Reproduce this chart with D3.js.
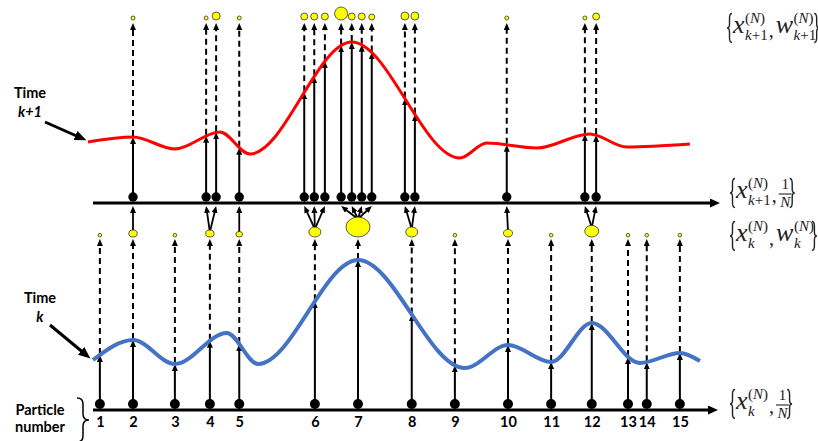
<!DOCTYPE html>
<html>
<head>
<meta charset="utf-8">
<script src="https://cdn.jsdelivr.net/npm/d3@7"></script>
<style>
  body { margin: 0; background: #fff; }
  text { font-family: Lato, "Open Sans", sans-serif; }
  .math text { font-family: "Liberation Serif", "DejaVu Serif", serif; }
</style>
</head>
<body>
<div id="chart"></div>
<script>
// particle filter picture: time k particles, weights, resampling, time k+1

// particle states at time k (0..100 state units) and their weights
var particleLabels = ["1","2","3","4","5","6","7","8","9","10","11","12","13","14","15"];
var stateK = [1.1, 6.4, 13.1, 18.7, 23.4, 35.5, 42.4, 51.0, 57.9, 66.4, 73.3, 79.8, 85.6, 88.6, 93.9];
var weightK = [0.013, 0.049, 0.013, 0.049, 0.031, 0.1, 0.4, 0.1, 0.013, 0.058, 0.013, 0.135, 0.013, 0.013, 0.013];

// resampled particles at time k+1: which parent (particle number) they came from
var parentK1 = [2, 4, 4, 5, 6, 6, 6, 7, 7, 7, 7, 8, 8, 10, 12, 12];
var stateK1 = [6.4, 18.1, 19.7, 23.4, 33.8, 35.4, 37.1, 39.7, 41.4, 43.0, 44.6, 49.9, 51.5, 66.2, 78.7, 80.5];
var weightK1 = [0.016, 0.016, 0.064, 0.016, 0.049, 0.049, 0.049, 0.169, 0.049, 0.049, 0.036, 0.064, 0.064, 0.016, 0.016, 0.049];

// likelihood curves [state, value]
var curveK = [[0, 50], [6.4, 70], [13.1, 46], [21.4, 77], [26.4, 46], [42.4, 150], [59.5, 42],
              [66.4, 65], [73.3, 48], [79.8, 87], [87.5, 47], [93.9, 57], [97.1, 49]];
var curveK1 = [[-0.8, 61], [6.4, 66], [13.1, 54], [20.3, 71], [25.1, 49], [41.4, 161], [58.7, 45],
               [63.0, 60], [71.0, 55], [79.5, 69], [85.4, 56], [95.5, 59]];

var svgWidth = 818, svgHeight = 441;
var axisK = 410, axisK1 = 203;

var svg = d3.select("#chart").append("svg")
    .attr("width", svgWidth)
    .attr("height", svgHeight)
    .style("background", "#fff");

var x = d3.scaleLinear().domain([0, 100]).range([93, 718]);
var yK = d3.scaleLinear().domain([0, 160]).range([axisK, axisK - 160]);
var yK1 = d3.scaleLinear().domain([0, 160]).range([axisK1, axisK1 - 160]);
var rScale = d3.scaleSqrt().domain([0, 0.4]).range([0, 10]);

// markers
var defs = svg.append("defs");
function marker(id, len, wid, ref) {
    defs.append("marker")
        .attr("id", id)
        .attr("markerUnits", "userSpaceOnUse")
        .attr("markerWidth", len + 2).attr("markerHeight", wid + 2)
        .attr("refX", ref).attr("refY", wid / 2)
        .attr("orient", "auto")
        .append("path")
        .attr("d", `M0,0L${len},${wid / 2}L0,${wid}Z`)
        .attr("fill", "#000");
}
marker("ah", 7, 6, 3);
marker("axisHead", 10, 9, 4);
marker("bigHead", 12, 10, 5);

// axes (arrow lines) with particle numbers as tick labels
svg.append("line").attr("x1", 93).attr("x2", 712).attr("y1", axisK).attr("y2", axisK)
    .attr("stroke", "#000").attr("stroke-width", 3).attr("marker-end", "url(#axisHead)");
svg.append("line").attr("x1", 93).attr("x2", 714).attr("y1", axisK1).attr("y2", axisK1)
    .attr("stroke", "#000").attr("stroke-width", 3).attr("marker-end", "url(#axisHead)");

var bottomAxis = d3.axisBottom(x)
    .tickValues(stateK)
    .tickFormat((d, i) => particleLabels[i])
    .tickSize(0)
    .tickPadding(7);
var axG = svg.append("g").attr("transform", `translate(0, ${axisK})`).call(bottomAxis);
axG.select(".domain").remove();
axG.selectAll("text").attr("font-size", 14.5).attr("font-weight", "bold").attr("fill", "#000")
    .style("font-family", "Lato, sans-serif");

// curves
var lineK = d3.line().x(d => x(d[0])).y(d => yK(d[1])).curve(d3.curveMonotoneX);
var lineK1 = d3.line().x(d => x(d[0])).y(d => yK1(d[1])).curve(d3.curveMonotoneX);

var pathK = svg.append("path").attr("d", lineK(curveK))
    .attr("fill", "none").attr("stroke", "#4472c4").attr("stroke-width", 4);
var pathK1 = svg.append("path").attr("d", lineK1(curveK1))
    .attr("fill", "none").attr("stroke", "#ff0000").attr("stroke-width", 3);

// y of a drawn curve at a given screen x
function yAt(path, px) {
    var node = path.node(), lo = 0, hi = node.getTotalLength(), p;
    for (var i = 0; i < 40; i++) {
        var mid = (lo + hi) / 2;
        p = node.getPointAtLength(mid);
        if (p.x < px) lo = mid; else hi = mid;
    }
    return p.y;
}

var arrows = svg.append("g").attr("stroke", "#000").attr("stroke-width", 2);

// --- time k ---
var tipK = 239, dotK = 404;
stateK.forEach(function (s, i) {
    var px = x(s), cy = yAt(pathK, px);
    arrows.append("line").attr("x1", px).attr("x2", px).attr("y1", dotK).attr("y2", cy + 4)
        .attr("marker-end", "url(#ah)");
    arrows.append("line").attr("x1", px).attr("x2", px).attr("y1", cy - 1).attr("y2", tipK + 4)
        .attr("stroke-dasharray", "6,4").attr("marker-end", "url(#ah)");
});

svg.append("g").selectAll("circle").data(stateK).enter().append("circle")
    .attr("cx", d => x(d)).attr("cy", dotK).attr("r", 5).attr("fill", "#000");

var ellK = stateK.map(function (s, i) {
    var r = rScale(weightK[i]);
    var rx = r > 2.5 ? r * 1.2 : r;
    return { x: x(s), rx: rx, ry: r, cy: tipK - 2 - r };
});

// --- resampling fans from weighted particles to k+1 dots ---
var dotK1 = 197;
stateK1.forEach(function (s, i) {
    var p = ellK[parentK1[i] - 1];
    var x2 = x(s), y1 = p.cy - p.ry + 2, y2 = 206;
    var dx = x2 - p.x, dy = y2 - y1, len = Math.sqrt(dx * dx + dy * dy);
    arrows.append("line").attr("x1", p.x).attr("y1", y1)
        .attr("x2", x2 - dx / len * 4).attr("y2", y2 - dy / len * 4)
        .attr("stroke-width", 1.8)
        .attr("marker-end", "url(#ah)");
});

svg.append("g").selectAll("ellipse").data(ellK).enter().append("ellipse")
    .attr("cx", d => d.x).attr("cy", d => d.cy).attr("rx", d => d.rx).attr("ry", d => d.ry)
    .attr("fill", "#ffff00").attr("stroke", "#333").attr("stroke-width", 0.8);

// --- time k+1 ---
var tipK1 = 23;
stateK1.forEach(function (s, i) {
    var px = x(s), cy = yAt(pathK1, px);
    arrows.append("line").attr("x1", px).attr("x2", px).attr("y1", dotK1).attr("y2", cy + 4)
        .attr("marker-end", "url(#ah)");
    arrows.append("line").attr("x1", px).attr("x2", px).attr("y1", cy - 1).attr("y2", tipK1 + 4)
        .attr("stroke-dasharray", "6,4").attr("marker-end", "url(#ah)");
});

svg.append("g").selectAll("circle").data(stateK1).enter().append("circle")
    .attr("cx", d => x(d)).attr("cy", dotK1).attr("r", 4.7).attr("fill", "#000");

svg.append("g").selectAll("circle").data(stateK1).enter().append("circle")
    .attr("cx", d => x(d))
    .attr("cy", (d, i) => tipK1 - 3 - rScale(weightK1[i]))
    .attr("r", (d, i) => rScale(weightK1[i]))
    .attr("fill", "#ffff00").attr("stroke", "#333").attr("stroke-width", 0.8);

// redraw curves on top of the arrows
pathK.raise();
pathK1.raise();

// --- left labels ---
function label(tx, ty, txt, italic) {
    svg.append("text").attr("x", tx).attr("y", ty).attr("text-anchor", "middle")
        .attr("font-size", 14.5).attr("font-weight", "bold")
        .attr("font-style", italic ? "italic" : "normal").text(txt);
}
label(30, 98, "Time");
label(30, 117, "k+1", true);
label(40, 303, "Time");
label(40, 322, "k", true);
label(40, 415, "Particle");
label(40, 432, "number");

svg.append("line").attr("x1", 45).attr("y1", 122).attr("x2", 80).attr("y2", 137.5)
    .attr("stroke", "#000").attr("stroke-width", 3).attr("marker-end", "url(#bigHead)");
svg.append("line").attr("x1", 50).attr("y1", 325).attr("x2", 85).attr("y2", 354)
    .attr("stroke", "#000").attr("stroke-width", 3).attr("marker-end", "url(#bigHead)");

// brace next to "Particle number"
svg.append("path")
    .attr("d", "M77,398Q83,398 83,404L83,414Q83,420 89,420Q83,420 83,426L83,436Q83,442 77,442")
    .attr("fill", "none").attr("stroke", "#000").attr("stroke-width", 1.5);

// --- right set labels ---
function brace(g, bx, yc, h, dir) {
    var w = 5 * dir, y0 = yc - h / 2, y1 = yc + h / 2, xm = bx + w * 0.5;
    g.append("path")
        .attr("d", `M${bx + w},${y0}Q${xm},${y0} ${xm},${y0 + 5}L${xm},${yc - 4}Q${xm},${yc} ${bx},${yc}` +
                   `Q${xm},${yc} ${xm},${yc + 4}L${xm},${y1 - 5}Q${xm},${y1} ${bx + w},${y1}`)
        .attr("fill", "none").attr("stroke", "#222").attr("stroke-width", 1.4);
}

function mathLabel(x0, yc, items) {
    var g = svg.append("g").attr("class", "math").attr("fill", "#222");
    brace(g, x0, yc, 29, 1);
    var cx = x0 + 6;
    items.forEach(function (it) {
        if (it.frac) {
            var a = g.append("text").attr("y", yc - 4).attr("font-size", 15).text("1");
            var b = g.append("text").attr("y", yc + 14).attr("font-size", 15).attr("font-style", "italic").text("N");
            var w = Math.max(a.node().getComputedTextLength(), b.node().getComputedTextLength()) + 3;
            a.attr("x", cx + w / 2).attr("text-anchor", "middle");
            b.attr("x", cx + w / 2).attr("text-anchor", "middle");
            g.append("line").attr("x1", cx).attr("x2", cx + w).attr("y1", yc + 1).attr("y2", yc + 1)
                .attr("stroke", "#222").attr("stroke-width", 1.1);
            cx += w + 1;
        } else if (it.comma) {
            var c = g.append("text").attr("x", cx).attr("y", yc + 9).attr("font-size", 20).text(",");
            cx += c.node().getComputedTextLength() + 2;
        } else {
            var m = g.append("text").attr("x", cx).attr("y", yc + 5).attr("font-size", 26)
                .attr("font-style", "italic").text(it.v);
            cx += m.node().getComputedTextLength() + 0.5;
            var sup = g.append("text").attr("x", cx).attr("y", yc - 5).attr("font-size", 15);
            sup.append("tspan").text("(");
            sup.append("tspan").attr("font-style", "italic").text("N");
            sup.append("tspan").text(")");
            var sub = g.append("text").attr("x", cx).attr("y", yc + 12).attr("font-size", 15);
            sub.append("tspan").attr("font-style", "italic").text("k");
            if (it.sub) sub.append("tspan").text(it.sub);
            cx += Math.max(sup.node().getComputedTextLength(), sub.node().getComputedTextLength()) + 1;
        }
    });
    brace(g, cx + 2, yc, 29, -1);
}

mathLabel(727, 28, [{ v: "x", sub: "+1" }, { comma: true }, { v: "w", sub: "+1" }]);
mathLabel(730, 193, [{ v: "x", sub: "+1" }, { comma: true }, { frac: true }]);
mathLabel(730, 236, [{ v: "x" }, { comma: true }, { v: "w" }]);
mathLabel(730, 404, [{ v: "x" }, { comma: true }, { frac: true }]);
</script>
</body>
</html>
